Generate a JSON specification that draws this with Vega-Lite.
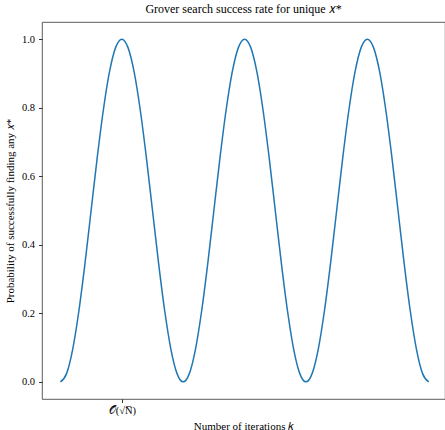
{
  "$schema": "https://vega.github.io/schema/vega-lite/v6.json",
  "autosize": {"type": "none"},
  "padding": {"left": 42, "top": 22, "right": 0, "bottom": 31},
  "width": 403,
  "height": 377,
  "background": "white",
  "config": {
    "font": "Liberation Serif",
    "view": {"stroke": "#333", "strokeWidth": 0.8},
    "axis": {
      "grid": false,
      "domain": false,
      "tickColor": "#000",
      "tickSize": 3.5,
      "tickWidth": 0.8,
      "labelFont": "Liberation Serif",
      "labelFontSize": 10.5,
      "labelColor": "#000",
      "titleFont": "Liberation Serif",
      "titleFontSize": 11,
      "titleFontWeight": "normal",
      "titleColor": "#000"
    }
  },
  "title": {
    "text": "Grover search success rate for unique 𝑥*",
    "font": "Liberation Serif",
    "fontSize": 12,
    "fontWeight": "normal",
    "color": "#000",
    "anchor": "middle",
    "offset": 6
  },
  "data": {
    "values": [
      {"t": 0.0, "p": 0}, {"t": 0.1, "p": 0.024}, {"t": 0.2, "p": 0.095}, {"t": 0.3, "p": 0.206}, {"t": 0.4, "p": 0.345},
      {"t": 0.5, "p": 0.5}, {"t": 0.6, "p": 0.655}, {"t": 0.7, "p": 0.794}, {"t": 0.8, "p": 0.905}, {"t": 0.9, "p": 0.976},
      {"t": 1.0, "p": 1}, {"t": 1.1, "p": 0.976}, {"t": 1.2, "p": 0.905}, {"t": 1.3, "p": 0.794}, {"t": 1.4, "p": 0.655},
      {"t": 1.5, "p": 0.5}, {"t": 1.6, "p": 0.345}, {"t": 1.7, "p": 0.206}, {"t": 1.8, "p": 0.095}, {"t": 1.9, "p": 0.024},
      {"t": 2.0, "p": 0}, {"t": 2.1, "p": 0.024}, {"t": 2.2, "p": 0.095}, {"t": 2.3, "p": 0.206}, {"t": 2.4, "p": 0.345},
      {"t": 2.5, "p": 0.5}, {"t": 2.6, "p": 0.655}, {"t": 2.7, "p": 0.794}, {"t": 2.8, "p": 0.905}, {"t": 2.9, "p": 0.976},
      {"t": 3.0, "p": 1}, {"t": 3.1, "p": 0.976}, {"t": 3.2, "p": 0.905}, {"t": 3.3, "p": 0.794}, {"t": 3.4, "p": 0.655},
      {"t": 3.5, "p": 0.5}, {"t": 3.6, "p": 0.345}, {"t": 3.7, "p": 0.206}, {"t": 3.8, "p": 0.095}, {"t": 3.9, "p": 0.024},
      {"t": 4.0, "p": 0}, {"t": 4.1, "p": 0.024}, {"t": 4.2, "p": 0.095}, {"t": 4.3, "p": 0.206}, {"t": 4.4, "p": 0.345},
      {"t": 4.5, "p": 0.5}, {"t": 4.6, "p": 0.655}, {"t": 4.7, "p": 0.794}, {"t": 4.8, "p": 0.905}, {"t": 4.9, "p": 0.976},
      {"t": 5.0, "p": 1}, {"t": 5.1, "p": 0.976}, {"t": 5.2, "p": 0.905}, {"t": 5.3, "p": 0.794}, {"t": 5.4, "p": 0.655},
      {"t": 5.5, "p": 0.5}, {"t": 5.6, "p": 0.345}, {"t": 5.7, "p": 0.206}, {"t": 5.8, "p": 0.095}, {"t": 5.9, "p": 0.024},
      {"t": 6.0, "p": 0}
    ]
  },
  "mark": {"type": "line", "color": "#1f77b4", "strokeWidth": 1.5, "interpolate": "monotone"},
  "encoding": {
    "x": {
      "field": "t",
      "type": "quantitative",
      "scale": {"domain": [-0.3, 6.265], "nice": false, "zero": false},
      "axis": {
        "values": [1],
        "labelExpr": "'𝒪(√N̅)'",
        "labelPadding": 3,
        "title": "Number of iterations 𝑘",
        "titlePadding": 4
      }
    },
    "y": {
      "field": "p",
      "type": "quantitative",
      "scale": {"domain": [-0.05, 1.05], "nice": false, "zero": false},
      "axis": {
        "values": [0, 0.2, 0.4, 0.6, 0.8, 1.0],
        "format": ".1f",
        "labelPadding": 4,
        "title": "Probability of successfully finding any 𝑥*",
        "titlePadding": 6
      }
    }
  }
}
